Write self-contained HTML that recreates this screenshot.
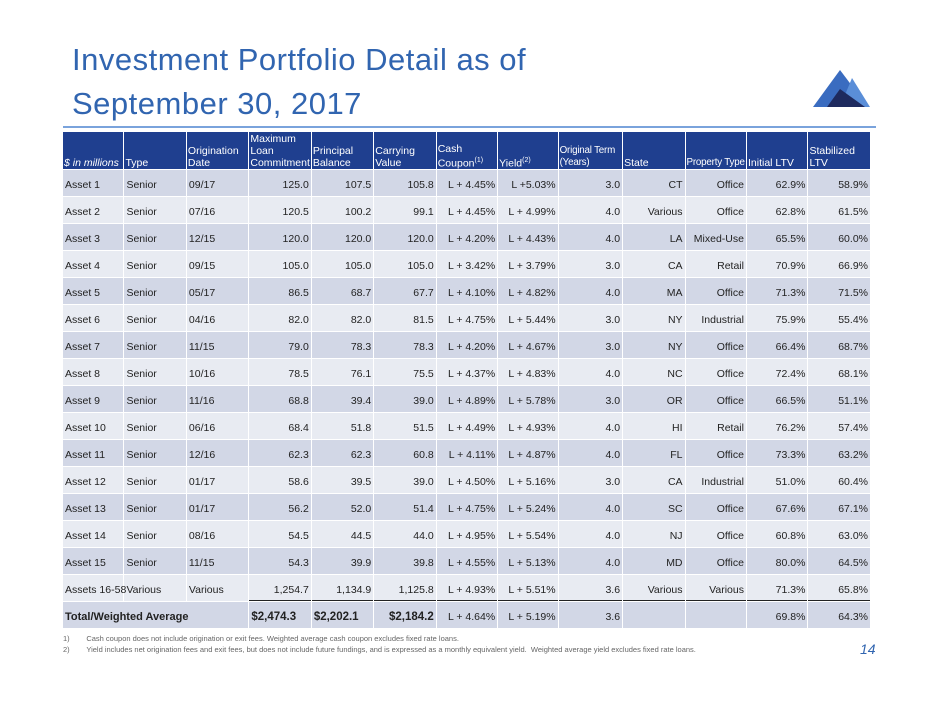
<!DOCTYPE html>
<html><head><meta charset="utf-8"><style>
body{margin:0;width:940px;height:705px;background:#fff;position:relative;font-family:"Liberation Sans",sans-serif;overflow:hidden}
.t{position:absolute;left:72px;top:38px;font-size:31px;color:#3165b0;line-height:44px;letter-spacing:0.5px}
.tl{position:absolute;left:63px;top:126px;width:813px;height:2px;background:#7aa3dc}
table{position:absolute;left:62px;top:131px;width:809px;border-collapse:separate;border-spacing:1px 1px;font-size:10.5px;color:#222;table-layout:fixed}
th{background:#1f3f8f;color:#fff;font-weight:normal;text-align:left;vertical-align:bottom;height:37px;line-height:12px;padding:0 1px;font-size:10.5px;white-space:nowrap;overflow:hidden}
th.s{font-size:9.8px;letter-spacing:-0.2px}
td{height:26px;padding:4px 2px 0 2px;box-sizing:border-box;text-align:right;vertical-align:middle;white-space:nowrap}
td:nth-child(-n+3){text-align:left}
tr.a td{background:#d2d7e6}tr.b td{background:#e8ebf2}
sup{font-size:7px}
.u{border-bottom:1.5px solid #222}
.fn{position:absolute;left:63px;font-size:7.5px;color:#666}
</style></head><body>
<div class="t">Investment Portfolio Detail as of<br>September 30, 2017</div>
<svg style="position:absolute;left:810px;top:65px" width="70" height="45"><polygon points="3,42 30,5 58,42" fill="#3a6cc0"/><polygon points="42,13 60,42 30,42" fill="#5a8ed8"/><polygon points="17,42 30,24 55,42" fill="#1e2a5e"/></svg>
<div class="tl"></div>
<table>
<colgroup><col style="width:60px"><col style="width:61px"><col style="width:61px"><col style="width:61px"><col style="width:61px"><col style="width:61px"><col style="width:60px"><col style="width:59px"><col style="width:63px"><col style="width:61px"><col style="width:60px"><col style="width:60px"><col style="width:61px"></colgroup>
<tr><th><i>$ in millions</i></th><th>Type</th><th>Origination<br>Date</th><th>Maximum<br>Loan<br>Commitment</th><th>Principal<br>Balance</th><th>Carrying<br>Value</th><th>Cash<br>Coupon<sup>(1)</sup></th><th>Yield<sup>(2)</sup></th><th class="s">Original Term<br>(Years)</th><th>State</th><th class="s">Property Type</th><th>Initial LTV</th><th>Stabilized<br>LTV</th></tr>
<tr class="a"><td>Asset 1</td><td>Senior</td><td>09/17</td><td>125.0</td><td>107.5</td><td>105.8</td><td>L + 4.45%</td><td>L +5.03%</td><td>3.0</td><td>CT</td><td>Office</td><td>62.9%</td><td>58.9%</td></tr>
<tr class="b"><td>Asset 2</td><td>Senior</td><td>07/16</td><td>120.5</td><td>100.2</td><td>99.1</td><td>L + 4.45%</td><td>L + 4.99%</td><td>4.0</td><td>Various</td><td>Office</td><td>62.8%</td><td>61.5%</td></tr>
<tr class="a"><td>Asset 3</td><td>Senior</td><td>12/15</td><td>120.0</td><td>120.0</td><td>120.0</td><td>L + 4.20%</td><td>L + 4.43%</td><td>4.0</td><td>LA</td><td>Mixed-Use</td><td>65.5%</td><td>60.0%</td></tr>
<tr class="b"><td>Asset 4</td><td>Senior</td><td>09/15</td><td>105.0</td><td>105.0</td><td>105.0</td><td>L + 3.42%</td><td>L + 3.79%</td><td>3.0</td><td>CA</td><td>Retail</td><td>70.9%</td><td>66.9%</td></tr>
<tr class="a"><td>Asset 5</td><td>Senior</td><td>05/17</td><td>86.5</td><td>68.7</td><td>67.7</td><td>L + 4.10%</td><td>L + 4.82%</td><td>4.0</td><td>MA</td><td>Office</td><td>71.3%</td><td>71.5%</td></tr>
<tr class="b"><td>Asset 6</td><td>Senior</td><td>04/16</td><td>82.0</td><td>82.0</td><td>81.5</td><td>L + 4.75%</td><td>L + 5.44%</td><td>3.0</td><td>NY</td><td>Industrial</td><td>75.9%</td><td>55.4%</td></tr>
<tr class="a"><td>Asset 7</td><td>Senior</td><td>11/15</td><td>79.0</td><td>78.3</td><td>78.3</td><td>L + 4.20%</td><td>L + 4.67%</td><td>3.0</td><td>NY</td><td>Office</td><td>66.4%</td><td>68.7%</td></tr>
<tr class="b"><td>Asset 8</td><td>Senior</td><td>10/16</td><td>78.5</td><td>76.1</td><td>75.5</td><td>L + 4.37%</td><td>L + 4.83%</td><td>4.0</td><td>NC</td><td>Office</td><td>72.4%</td><td>68.1%</td></tr>
<tr class="a"><td>Asset 9</td><td>Senior</td><td>11/16</td><td>68.8</td><td>39.4</td><td>39.0</td><td>L + 4.89%</td><td>L + 5.78%</td><td>3.0</td><td>OR</td><td>Office</td><td>66.5%</td><td>51.1%</td></tr>
<tr class="b"><td>Asset 10</td><td>Senior</td><td>06/16</td><td>68.4</td><td>51.8</td><td>51.5</td><td>L + 4.49%</td><td>L + 4.93%</td><td>4.0</td><td>HI</td><td>Retail</td><td>76.2%</td><td>57.4%</td></tr>
<tr class="a"><td>Asset 11</td><td>Senior</td><td>12/16</td><td>62.3</td><td>62.3</td><td>60.8</td><td>L + 4.11%</td><td>L + 4.87%</td><td>4.0</td><td>FL</td><td>Office</td><td>73.3%</td><td>63.2%</td></tr>
<tr class="b"><td>Asset 12</td><td>Senior</td><td>01/17</td><td>58.6</td><td>39.5</td><td>39.0</td><td>L + 4.50%</td><td>L + 5.16%</td><td>3.0</td><td>CA</td><td>Industrial</td><td>51.0%</td><td>60.4%</td></tr>
<tr class="a"><td>Asset 13</td><td>Senior</td><td>01/17</td><td>56.2</td><td>52.0</td><td>51.4</td><td>L + 4.75%</td><td>L + 5.24%</td><td>4.0</td><td>SC</td><td>Office</td><td>67.6%</td><td>67.1%</td></tr>
<tr class="b"><td>Asset 14</td><td>Senior</td><td>08/16</td><td>54.5</td><td>44.5</td><td>44.0</td><td>L + 4.95%</td><td>L + 5.54%</td><td>4.0</td><td>NJ</td><td>Office</td><td>60.8%</td><td>63.0%</td></tr>
<tr class="a"><td>Asset 15</td><td>Senior</td><td>11/15</td><td>54.3</td><td>39.9</td><td>39.8</td><td>L + 4.55%</td><td>L + 5.13%</td><td>4.0</td><td>MD</td><td>Office</td><td>80.0%</td><td>64.5%</td></tr>
<tr class="b"><td>Assets 16-58</td><td>Various</td><td>Various</td><td class="u">1,254.7</td><td class="u">1,134.9</td><td class="u">1,125.8</td><td class="u">L + 4.93%</td><td class="u">L + 5.51%</td><td class="u">3.6</td><td class="u">Various</td><td class="u">Various</td><td class="u">71.3%</td><td class="u">65.8%</td></tr>
<tr class="a"><td colspan="3" style="font-weight:bold;font-size:11px">Total/Weighted Average</td><td style="font-weight:bold;font-size:11.5px">$2,474.3</td><td style="font-weight:bold;font-size:11.5px">$2,202.1</td><td style="font-weight:bold;font-size:11.5px">$2,184.2</td><td>L + 4.64%</td><td>L + 5.19%</td><td>3.6</td><td></td><td></td><td>69.8%</td><td>64.3%</td></tr>
</table>
<div class="fn" style="top:634px">1)&nbsp;&nbsp;&nbsp;&nbsp;&nbsp;&nbsp;&nbsp;&nbsp;Cash coupon does not include origination or exit fees. Weighted average cash coupon excludes fixed rate loans.</div>
<div class="fn" style="top:645px">2)&nbsp;&nbsp;&nbsp;&nbsp;&nbsp;&nbsp;&nbsp;&nbsp;Yield includes net origination fees and exit fees, but does not include future fundings, and is expressed as a monthly equivalent yield.&nbsp; Weighted average yield excludes fixed rate loans.</div>
<div style="position:absolute;left:860px;top:641px;font-size:14px;font-style:italic;color:#3165b0">14</div>
</body></html>
